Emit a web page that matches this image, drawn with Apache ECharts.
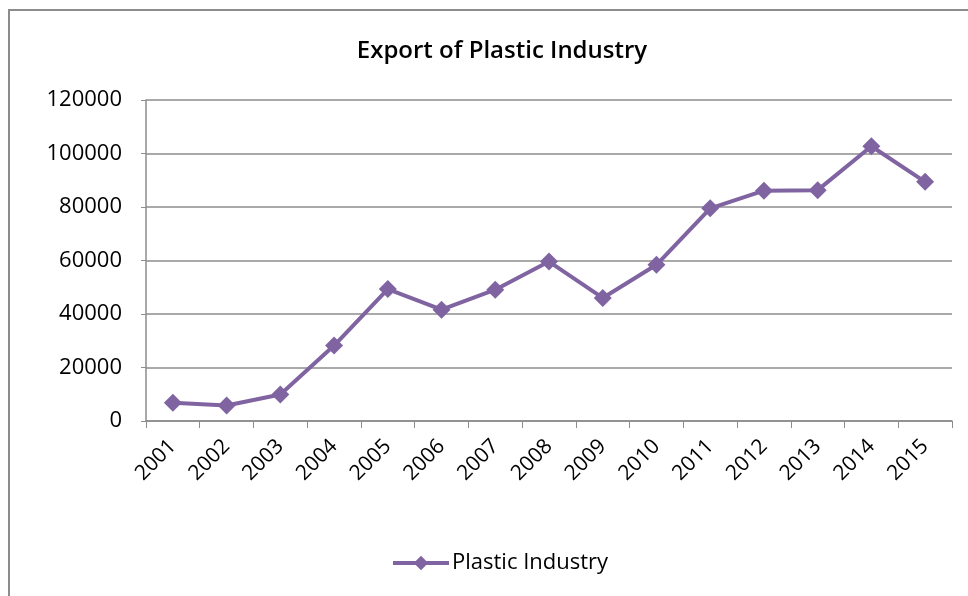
<!DOCTYPE html>
<html><head><meta charset="utf-8">
<script src="https://cdn.jsdelivr.net/npm/echarts@6/dist/echarts.min.js"></script>
<style>html,body{margin:0;padding:0;background:#fff}#c{width:968px;height:596px}</style>
</head><body><div id="c"></div>
<script>
const years = ['2001','2002','2003','2004','2005','2006','2007','2008','2009','2010','2011','2012','2013','2014','2015'];
const plasticIndustry = [6800, 5800, 9900, 28200, 49300, 41600, 49100, 59600, 46000, 58400, 79500, 86100, 86300, 102700, 89400];
const yTicks = [0, 20000, 40000, 60000, 80000, 100000, 120000];

const chart = echarts.init(document.getElementById('c'));
const font = 'Open Sans';
chart.setOption({
  animation: false,
  backgroundColor: '#fff',
  graphic: [{
    type: 'polyline', silent: true,
    shape: { points: [[9, 596], [9, 10], [968, 10]] },
    style: { stroke: '#8c8c8c', lineWidth: 2, fill: null }
  }],
  title: {
    text: 'Export of Plastic Industry', left: 497, textAlign: 'center', top: 34,
    textStyle: { fontFamily: font, fontSize: 24, fontWeight: 600, color: '#000' }
  },
  legend: {
    bottom: 17, left: 386, itemWidth: 56, itemHeight: 18, itemGap: 4,
    data: ['Plastic Industry'],
    lineStyle: { width: 4, color: '#8064A2' },
    itemStyle: { color: '#8064A2' },
    textStyle: { fontFamily: font, fontSize: 22, color: '#000', padding: [0, 0, 0, -2] }
  },
  grid: { left: 146, right: 16, top: 100, bottom: 175 },
  xAxis: {
    type: 'category', data: years, boundaryGap: true,
    axisLine: { lineStyle: { color: '#8c8c8c', width: 1.5 } },
    axisTick: { show: true, length: 7, lineStyle: { color: '#8c8c8c' } },
    axisLabel: { rotate: 45, fontFamily: font, fontSize: 21, color: '#000', margin: 22, interval: 0 }
  },
  yAxis: {
    type: 'value', min: yTicks[0], max: yTicks[yTicks.length - 1], interval: 20000,
    axisLine: { show: true, lineStyle: { color: '#8c8c8c', width: 1.5 } },
    axisTick: { show: true, length: 5, lineStyle: { color: '#8c8c8c' } },
    splitLine: { lineStyle: { color: '#8c8c8c', width: 1.5 } },
    axisLabel: { fontFamily: font, fontSize: 22, color: '#000', margin: 24, formatter: v => String(v) }
  },
  series: [{
    name: 'Plastic Industry', type: 'line', data: plasticIndustry,
    symbol: 'diamond', symbolSize: 18,
    lineStyle: { color: '#8064A2', width: 4 },
    itemStyle: { color: '#8064A2' }
  }]
});
</script></body></html>
